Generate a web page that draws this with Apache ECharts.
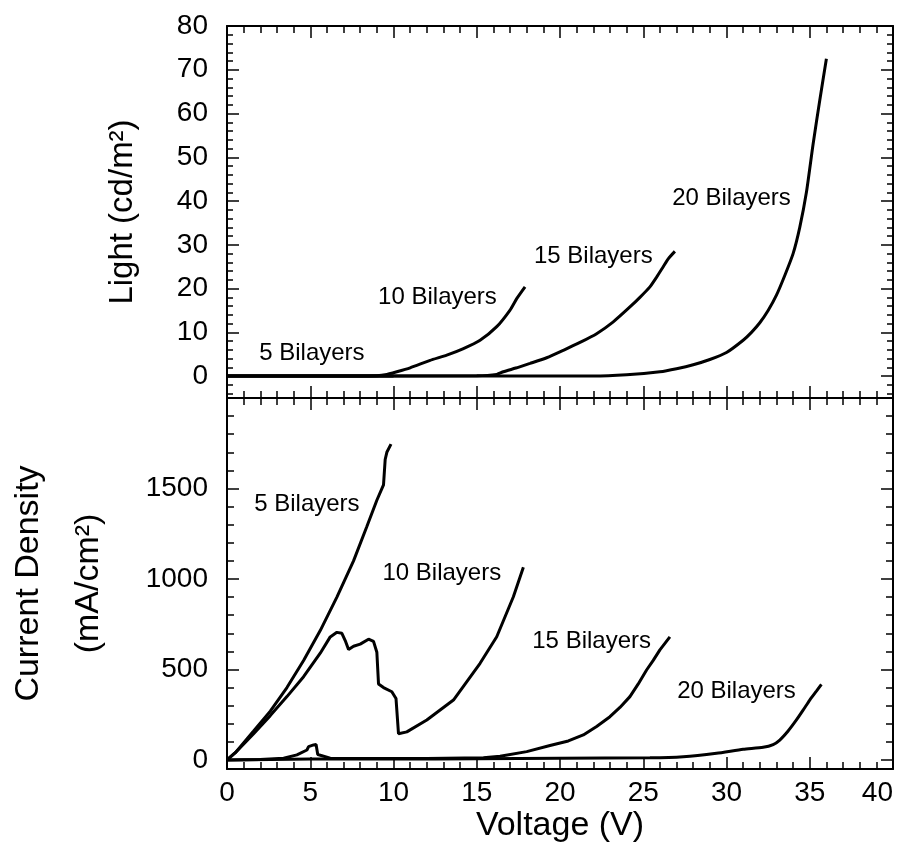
<!DOCTYPE html>
<html><head><meta charset="utf-8">
<script src="https://cdn.jsdelivr.net/npm/echarts@6/dist/echarts.min.js"></script>
<style>html,body{margin:0;padding:0;background:#fff}#c{width:906px;height:857px}</style>
</head><body><div id="c"></div>
<script>
// ---- tick values ----
const lightTicks = [0,10,20,30,40,50,60,70,80];
const lightMinor = [-4,-2,2,4,6,8,12,14,16,18,22,24,26,28,32,34,36,38,42,44,46,48,52,54,56,58,62,64,66,68,72,74,76,78];
const currentTicks = [0,500,1000,1500];
const currentTickMarks = [0,500,1000,1500,2000];
const currentMinor = [100,200,300,400,600,700,800,900,1100,1200,1300,1400,1600,1700,1800,1900];

// ---- Light (cd/m2) vs Voltage (V) ----
const light5 = [[0,0],[10,0]];
const light10 = [[0,0],[8,0],[9,0.1],[9.5,0.3],[10.2,1.0],[11,1.9],[12.2,3.6],[13.2,4.8],[14.2,6.3],[15.2,8.2],[16.2,11.3],[17.0,15.1],[17.4,17.7],[17.9,20.4]];
const light15 = [[0,0],[15,0.1],[16.2,0.4],[16.6,1.0],[17.4,1.9],[18.2,2.9],[19.2,4.2],[20.2,5.9],[21.2,7.7],[22.2,9.7],[23.2,12.4],[24.2,15.8],[24.8,18.0],[25.4,20.4],[25.8,22.6],[26.2,25],[26.5,26.8],[26.9,28.5]];
const light20 = [[0,0],[22,0],[24,0.3],[26,1.0],[27,1.7],[28,2.6],[29,3.8],[30,5.4],[31,8.2],[31.5,10],[32,12.2],[32.5,15],[33,18.5],[33.5,23],[34,28],[34.4,34],[34.8,42],[35.2,53],[35.6,63],[36,72.5]];

// ---- Current Density (mA/cm2) vs Voltage (V) ----
const cur5 = [[0,0],[0.5,40],[1.6,160],[2.6,270],[3.6,400],[4.6,550],[5.6,715],[6.6,900],[7.6,1100],[8.4,1290],[9.0,1435],[9.4,1520],[9.5,1660],[9.6,1700],[9.85,1745]];
const cur10 = [[0,0],[0.5,40],[1.6,145],[2.6,245],[3.6,350],[4.6,460],[5.6,590],[6.2,680],[6.6,705],[6.9,700],[7.1,660],[7.3,610],[7.6,628],[8.0,640],[8.5,667],[8.8,655],[9.0,595],[9.1,420],[9.4,400],[9.9,377],[10.15,340],[10.3,145],[10.8,155],[12.0,221],[13.6,331],[15.2,534],[16.2,681],[17.2,902],[17.8,1065]];
const cur15 = [[0,0],[2,2],[3.4,9],[4.2,28],[4.8,55],[4.9,74],[5.2,83],[5.35,85],[5.45,30],[6.2,10],[8,8],[12,8],[15.4,12],[16.4,20],[18,46],[19.4,80],[20.5,105],[21.4,138],[22.2,185],[23.0,239],[23.6,290],[24.2,350],[24.7,420],[25.2,497],[25.6,550],[26.0,608],[26.6,680]];
const cur20 = [[0,0],[5,5],[10,5],[15,7],[20,10],[25.4,12],[27.4,18],[29.4,37],[31.0,59],[32.2,70],[32.8,85],[33.2,110],[33.7,160],[34.2,221],[34.6,275],[35.0,331],[35.4,380],[35.7,418]];

// ---- annotation anchors (data coords) ----
const seriesNames = ['5 Bilayers','10 Bilayers','15 Bilayers','20 Bilayers'];
const lightLabelAt = [[5.1,5.3],[12.64,18.1],[22.0,27.3],[30.3,40.5]];
const currentLabelAt = [[4.8,1414],[12.9,1033],[21.9,657],[30.6,381]];

const FONT = "'Liberation Sans', Arial, Helvetica, sans-serif";
const BLACK = '#000';

function xAx(gridIndex, position, showLabel, extra) {
  return Object.assign({
    type: 'value', gridIndex, position, min: 0, max: 40, interval: 5,
    axisLine: { show: true, onZero: false, lineStyle: { color: BLACK, width: 2 } },
    axisTick: { show: true, inside: true, length: 12, lineStyle: { color: BLACK, width: 1.5 } },
    minorTick: { show: true, splitNumber: 5, length: 7, lineStyle: { color: BLACK, width: 1.5 } },
    axisLabel: { show: showLabel, color: BLACK, fontFamily: FONT, fontSize: 28, margin: 10, alignMaxLabel: 'right', formatter: v => String(v) },
    splitLine: { show: false }, minorSplitLine: { show: false }
  }, extra || {});
}
function yAx(gridIndex, position, min, max, ticks, len, labels, showLine, extra) {
  return Object.assign({
    type: 'value', gridIndex, position, min, max,
    axisLine: { show: showLine, onZero: false, lineStyle: { color: BLACK, width: 2 } },
    axisTick: { show: true, inside: true, length: len, customValues: ticks, lineStyle: { color: BLACK, width: 1.5 } },
    axisLabel: labels ? { show: true, customValues: labels, color: BLACK, fontFamily: FONT, fontSize: 28, margin: 19, formatter: v => String(v) } : { show: false },
    splitLine: { show: false }
  }, extra || {});
}

const xAxes = [
  xAx(0, 'bottom', false),
  xAx(0, 'top', false),
  xAx(1, 'top', false),
  xAx(1, 'bottom', true, {
    name: 'Voltage (V)', nameLocation: 'middle', nameGap: 40,
    nameTextStyle: { color: BLACK, fontFamily: FONT, fontSize: 34 }
  })
];

const yAxes = [
  yAx(0, 'left', -5, 80, lightTicks, 12, lightTicks, true, {
    name: 'Light (cd/m²)', nameLocation: 'middle', nameRotate: 90, nameGap: 88,
    nameTextStyle: { color: BLACK, fontFamily: FONT, fontSize: 33 }
  }),
  yAx(0, 'left', -5, 80, lightMinor, 6, null, false),
  yAx(0, 'right', -5, 80, lightTicks, 12, null, true),
  yAx(0, 'right', -5, 80, lightMinor, 6, null, false),
  yAx(1, 'left', -50, 2000, currentTickMarks, 12, currentTicks, true, {
    name: 'Current Density\n(mA/cm²)', nameLocation: 'middle', nameRotate: 90, nameGap: 108,
    nameTextStyle: { color: BLACK, fontFamily: FONT, fontSize: 34, lineHeight: 60 }
  }),
  yAx(1, 'left', -50, 2000, currentMinor, 7, null, false),
  yAx(1, 'right', -50, 2000, currentTickMarks, 12, null, true),
  yAx(1, 'right', -50, 2000, currentMinor, 7, null, false)
];

function curve(data, xi, yi, text, at, smooth) {
  return {
    type: 'line', xAxisIndex: xi, yAxisIndex: yi, data,
    showSymbol: false, symbol: 'none', silent: true, smooth: smooth || false,
    lineStyle: { color: BLACK, width: 3 },
    markPoint: {
      symbol: 'circle', symbolSize: 1, silent: true,
      itemStyle: { color: 'rgba(0,0,0,0)' },
      label: { show: true, position: 'inside', color: BLACK, fontFamily: FONT, fontSize: 24, formatter: text },
      data: [{ coord: at }]
    }
  };
}

const series = [
  curve(light5, 0, 0, seriesNames[0], lightLabelAt[0]),
  curve(light10, 0, 0, seriesNames[1], lightLabelAt[1], 0.2),
  curve(light15, 0, 0, seriesNames[2], lightLabelAt[2], 0.2),
  curve(light20, 0, 0, seriesNames[3], lightLabelAt[3], 0.2),
  curve(cur5, 3, 4, seriesNames[0], currentLabelAt[0]),
  curve(cur10, 3, 4, seriesNames[1], currentLabelAt[1]),
  curve(cur15, 3, 4, seriesNames[2], currentLabelAt[2]),
  curve(cur20, 3, 4, seriesNames[3], currentLabelAt[3], 0.2)
];

const chart = echarts.init(document.getElementById('c'), null, { renderer: 'canvas' });
chart.setOption({
  backgroundColor: '#fff',
  animation: false,
  grid: [
    { left: 227, right: 13, top: 26, height: 372, containLabel: false, outerBoundsMode: 'none' },
    { left: 227, right: 13, top: 398, height: 371, containLabel: false, outerBoundsMode: 'none' }
  ],
  xAxis: xAxes,
  yAxis: yAxes,
  series
});
</script>
</body></html>
